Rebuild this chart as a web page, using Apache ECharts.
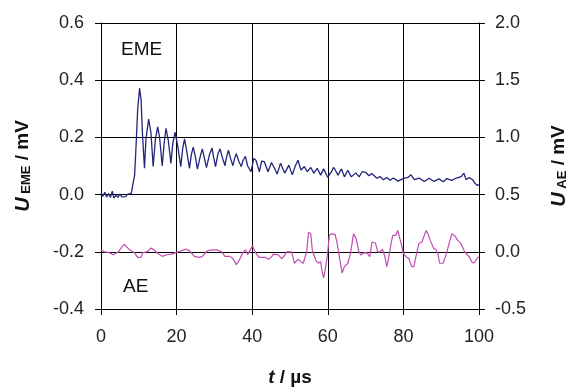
<!DOCTYPE html>
<html>
<head>
<meta charset="utf-8">
<script src="https://cdn.jsdelivr.net/npm/echarts@6/dist/echarts.min.js"></script>
<style>
html,body{margin:0;padding:0;background:#fff;}
#chart{width:577px;height:392px;}
</style>
</head>
<body>
<div id="chart"></div>
<script>
// Time axis ticks (µs)
var xTicks = [0, 20, 40, 60, 80, 100];
var leftTicks = [-0.4, -0.2, 0.0, 0.2, 0.4, 0.6];
var rightTicks = [-0.5, 0.0, 0.5, 1.0, 1.5, 2.0];

// EME signal (left axis, mV)
var emeTime = [0,0.5,1,1.5,2,2.5,3,3.4,4,4.5,5,5.5,6,6.5,7,7.5,8,8.5,8.9,9.3,9.7,10.2,10.6,11.0,11.5,11.9,12.6,13.2,13.8,14.4,15.0,15.5,16.2,16.7,17.2,17.8,18.5,19.0,19.6,20.3,21.1,21.6,22.1,22.7,23.4,23.9,24.4,25.0,25.5,26.2,26.8,27.3,27.9,28.7,29.4,29.8,30.3,30.9,31.5,32.1,32.8,33.2,33.7,34.3,34.9,35.3,35.8,36.5,37.1,37.6,38.2,38.8,39.7,40.4,41.0,41.9,42.5,43.2,44.2,45.1,45.9,46.6,47.5,48.6,49.7,50.6,51.4,52.1,52.9,53.8,54.6,55.5,56.3,57.2,58.1,58.9,60.0,60.5,61.0,61.5,61.9,62.7,63.6,64.4,65.3,66.2,67.4,68.3,69.1,70.0,70.9,71.6,72.1,73.0,73.8,74.7,75.6,76.5,77.3,78.6,79.9,81.2,82.0,82.9,84.2,85.5,86.8,88.1,89.4,90.6,91.5,92.8,94.0,95.3,96.0,96.6,97.4,98.3,98.9,99.6,100];
var emeValue = [0.005,-0.006,0.008,-0.008,0.004,-0.01,0.012,-0.012,-0.002,-0.01,0.002,-0.008,-0.002,-0.007,0.001,-0.004,0.004,0.01,0.069,0.178,0.298,0.372,0.332,0.206,0.092,0.195,0.264,0.218,0.098,0.195,0.237,0.2,0.1,0.18,0.232,0.19,0.109,0.18,0.218,0.17,0.098,0.16,0.195,0.15,0.092,0.14,0.166,0.13,0.089,0.13,0.16,0.13,0.094,0.14,0.163,0.13,0.098,0.14,0.16,0.13,0.101,0.13,0.155,0.125,0.101,0.125,0.143,0.115,0.098,0.12,0.134,0.1,0.08,0.126,0.12,0.08,0.117,0.115,0.08,0.112,0.092,0.072,0.11,0.075,0.103,0.069,0.1,0.12,0.086,0.098,0.08,0.095,0.075,0.092,0.068,0.09,0.06,0.072,0.08,0.095,0.088,0.068,0.09,0.062,0.085,0.062,0.076,0.062,0.08,0.078,0.066,0.074,0.077,0.057,0.063,0.052,0.06,0.05,0.058,0.047,0.056,0.06,0.069,0.052,0.058,0.046,0.057,0.046,0.055,0.045,0.056,0.05,0.058,0.063,0.075,0.052,0.06,0.052,0.04,0.032,0.035];

// AE signal (right axis, mV)
var aeTime = [0,0.9,2,3.3,4.6,6.1,7.6,8.9,9.7,10.6,11.0,12.3,13.2,14.0,14.9,16.2,17.4,18.7,20,21.3,22.6,23.4,24.7,26,26.8,28.1,29.4,30.7,31.9,32.8,34.1,34.9,35.8,36.7,37.5,38.2,38.8,39.7,40.1,40.9,41.8,43.5,44.4,45.2,45.6,46.9,47.8,48.6,49.1,50.4,51.2,52.1,52.9,53.5,54.4,54.9,55.5,55.9,56.8,57.5,58.1,58.5,58.9,59.3,59.9,60.4,61.0,61.9,62.4,63.2,63.8,64.4,65.3,66.0,66.8,67.5,68.1,68.7,69.6,70.4,71.1,71.7,72.6,73.2,73.8,74.5,75.1,75.6,76.0,76.8,77.2,77.9,78.5,79.0,79.4,80.0,80.7,81.4,82.2,82.8,83.2,84.1,84.9,85.4,86.0,86.5,87.1,88.0,88.6,89.1,89.6,90.5,91.4,92.2,92.8,93.5,94.4,95.2,96.2,97.4,98.2,98.8,99.5,99.9];
var aeValue = [0.017,0,-0.005,-0.026,0,0.066,0.017,-0.011,-0.049,-0.049,-0.01,0.003,0.032,0.017,-0.011,-0.04,-0.026,-0.02,-0.005,0.009,0.023,0.009,-0.04,-0.049,-0.04,0.009,0.017,0.017,0,-0.04,-0.04,-0.06,-0.112,-0.066,-0.011,0.017,-0.026,0.03,0.052,-0.01,-0.049,-0.049,-0.066,-0.04,-0.02,-0.026,-0.06,-0.03,0,0,-0.1,-0.066,-0.086,-0.1,0,0.172,0.157,0.014,-0.072,-0.1,-0.086,-0.172,-0.229,-0.158,-0.029,0.143,0.157,0.152,0.086,-0.072,-0.186,-0.129,-0.1,-0.014,0.157,0.115,0.014,-0.029,-0.009,-0.009,-0.043,0.086,0.077,0,0,0.02,-0.043,-0.129,-0.072,0.086,0.143,0.143,0.186,0.172,0.072,-0.014,-0.043,-0.057,-0.129,-0.129,-0.057,0.072,0.086,0.086,0.186,0.157,0.1,0.029,0.02,-0.014,-0.1,-0.1,-0.014,0.086,0.157,0.143,0.1,0.072,0,-0.043,-0.094,-0.094,-0.057,-0.043];

function zip(a, b) { return a.map(function (v, i) { return [v, b[i]]; }); }
function fmt1(v) { return Math.abs(v) < 1e-9 ? '0.0' : (+v).toFixed(1); }

var font = 'Arial, "Liberation Sans", sans-serif';
var chart = echarts.init(document.getElementById('chart'), null, {renderer: 'canvas'});
chart.setOption({
  animation: false,
  backgroundColor: '#fff',
  grid: {left: 101, right: 85, top: 23, bottom: 78, containLabel: false},
  xAxis: {
    type: 'value', min: xTicks[0], max: xTicks[xTicks.length - 1], interval: 20,
    axisLine: {show: true, onZero: false, lineStyle: {color: '#000', width: 1}},
    axisTick: {show: true, length: 6, lineStyle: {color: '#000'}},
    axisLabel: {fontSize: 18, color: '#222', fontFamily: font, margin: 19},
    splitLine: {show: true, lineStyle: {color: '#000', width: 1}},
    name: '{t|t}{n| / µs}', nameLocation: 'middle', nameGap: 59,
    nameTextStyle: {rich: {
      t: {fontSize: 19, fontWeight: 'bold', fontStyle: 'italic', fontFamily: font, color: '#111'},
      n: {fontSize: 19, fontWeight: 'bold', fontFamily: font, color: '#111'}
    }}
  },
  yAxis: [{
    type: 'value', min: leftTicks[0], max: leftTicks[leftTicks.length - 1], interval: 0.2,
    axisLine: {show: true, onZero: false, lineStyle: {color: '#000', width: 1}},
    axisTick: {show: true, length: 6, lineStyle: {color: '#000'}},
    axisLabel: {fontSize: 18, color: '#222', fontFamily: font, margin: 17, formatter: fmt1},
    splitLine: {show: true, lineStyle: {color: '#000', width: 1}},
    name: '{u|U}{s| EME}{n| / mV}', nameLocation: 'middle', nameGap: 68, nameRotate: 90,
    nameTextStyle: {rich: {
      u: {fontSize: 20, fontWeight: 'bold', fontStyle: 'italic', fontFamily: font, color: '#111'},
      s: {fontSize: 13, fontWeight: 'bold', fontFamily: font, color: '#111', verticalAlign: 'bottom'},
      n: {fontSize: 19, fontWeight: 'bold', fontFamily: font, color: '#111'}
    }}
  }, {
    type: 'value', min: rightTicks[0], max: rightTicks[rightTicks.length - 1], interval: 0.5,
    position: 'right',
    axisLine: {show: true, onZero: false, lineStyle: {color: '#000', width: 1}},
    axisTick: {show: true, length: 6, lineStyle: {color: '#000'}},
    axisLabel: {fontSize: 18, color: '#222', fontFamily: font, margin: 16, formatter: fmt1},
    splitLine: {show: false},
    name: '{u|U}{s| AE}{n| / mV}', nameLocation: 'middle', nameGap: 70, nameRotate: 90,
    nameTextStyle: {rich: {
      u: {fontSize: 20, fontWeight: 'bold', fontStyle: 'italic', fontFamily: font, color: '#111'},
      s: {fontSize: 13, fontWeight: 'bold', fontFamily: font, color: '#111', verticalAlign: 'bottom'},
      n: {fontSize: 19, fontWeight: 'bold', fontFamily: font, color: '#111'}
    }}
  }],
  graphic: [
    {type: 'text', left: 121, top: 40, style: {text: 'EME', font: '19px ' + font, fill: '#111'}},
    {type: 'text', left: 123, top: 277, style: {text: 'AE', font: '19px ' + font, fill: '#111'}}
  ],
  series: [{
    name: 'EME', type: 'line', yAxisIndex: 0, showSymbol: false, symbol: 'none',
    lineStyle: {color: '#24247a', width: 1.3}, data: zip(emeTime, emeValue), z: 3
  }, {
    name: 'AE', type: 'line', yAxisIndex: 1, showSymbol: false, symbol: 'none',
    lineStyle: {color: '#c24db0', width: 1.2}, data: zip(aeTime, aeValue), z: 2
  }]
});
</script>
</body>
</html>
